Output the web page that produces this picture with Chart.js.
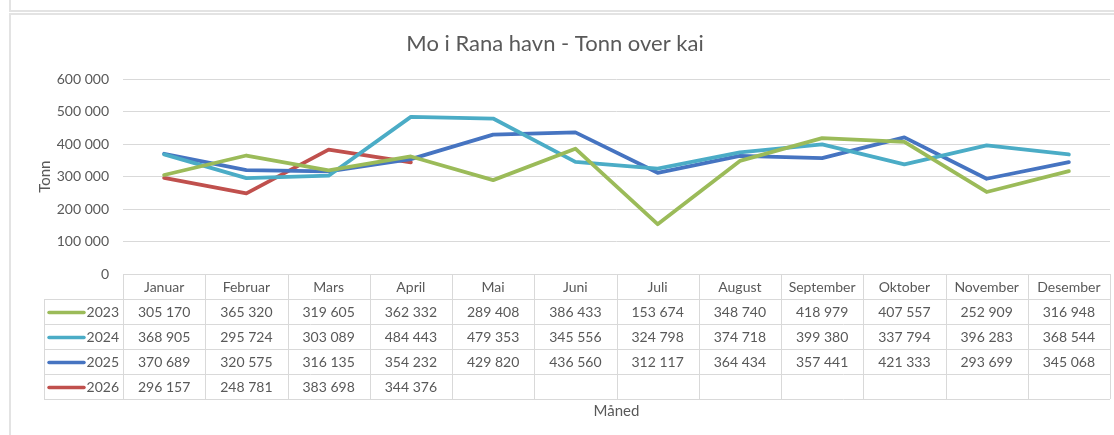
<!DOCTYPE html>
<html>
<head>
<meta charset="utf-8">
<script src="https://cdn.jsdelivr.net/npm/chart.js@4/dist/chart.umd.min.js"></script>
<style>
  html, body { margin: 0; padding: 0; background: #fff; }
  #wrap { position: relative; width: 1114px; height: 435px; }
  #topbox { position: absolute; left: 9px; top: -1px; width: 1105px; height: 11px; border-left: 2px solid #e3e3e3; border-bottom: 2px solid #e3e3e3; }
  #chartbox { position: absolute; left: 9px; top: 13px; width: 1105px; height: 422px; border-left: 2px solid #e3e3e3; border-top: 2px solid #e3e3e3; }
  canvas { position: absolute; left: 0; top: 0; }
</style>
</head>
<body>
<div id="wrap">
  <div id="topbox"></div>
  <div id="chartbox"></div>
  <canvas id="tonn-graph" width="1114" height="435"></canvas>
</div>
<script>
var months = ['Januar', 'Februar', 'Mars', 'April', 'Mai', 'Juni', 'Juli', 'August', 'September', 'Oktober', 'November', 'Desember'];
var years = ['2023', '2024', '2025', '2026'];
var tonn2023 = [305170, 365320, 319605, 362332, 289408, 386433, 153674, 348740, 418979, 407557, 252909, 316948];
var tonn2024 = [368905, 295724, 303089, 484443, 479353, 345556, 324798, 374718, 399380, 337794, 396283, 368544];
var tonn2025 = [370689, 320575, 316135, 354232, 429820, 436560, 312117, 364434, 357441, 421333, 293699, 345068];
var tonn2026 = [296157, 248781, 383698, 344376, null, null, null, null, null, null, null, null];
var colors = ['#9bbb59', '#4bacc6', '#4674c1', '#c0504d'];

var textColor = '#595959';
var gridColor = '#d9d9d9';
var fontFamily = 'Lato, "Open Sans", sans-serif';

function fmt(v) {
	if (v === null || v === undefined) return '';
	return String(Math.round(v)).replace(/\B(?=(\d{3})+(?!\d))/g, ' ');
}

// tabellen under grafen (som i Excel)
var dataTable = {
	id: 'dataTable',
	afterDraw: function(chart) {
		var ctx = chart.ctx;
		var area = chart.chartArea;
		var x = chart.scales.x;
		var colW = (area.right - area.left) / months.length;
		var rowH = 25;
		var top = area.bottom;
		var keyLeft = 44;
		var sets = chart.data.datasets;
		var bottom = top + rowH * (sets.length + 1);

		ctx.save();
		ctx.strokeStyle = gridColor;
		ctx.lineWidth = 1;
		ctx.beginPath();
		// header row line
		ctx.moveTo(area.left, top + 0.5);
		ctx.lineTo(area.right, top + 0.5);
		for (var r = 1; r <= sets.length + 1; r++) {
			var yy = Math.round(top + r * rowH) + 0.5;
			ctx.moveTo(keyLeft, yy);
			ctx.lineTo(area.right, yy);
		}
		ctx.moveTo(keyLeft + 0.5, top + rowH);
		ctx.lineTo(keyLeft + 0.5, bottom);
		for (var c = 0; c <= months.length; c++) {
			var xx = Math.round(x.getPixelForValue(0) - colW / 2 + c * colW) + 0.5;
			ctx.moveTo(xx, top);
			ctx.lineTo(xx, bottom);
		}
		ctx.stroke();

		ctx.font = '14px ' + fontFamily;
		ctx.fillStyle = textColor;
		ctx.textAlign = 'center';
		ctx.textBaseline = 'middle';
		months.forEach(function(m, i) {
			ctx.fillText(m, x.getPixelForValue(i), top + rowH / 2 + 1);
		});

		sets.forEach(function(ds, r) {
			var cy = top + rowH * (r + 1) + rowH / 2 + 1;
			ctx.strokeStyle = ds.borderColor;
			ctx.lineWidth = 3.5;
			ctx.lineCap = 'round';
			ctx.beginPath();
			ctx.moveTo(keyLeft + 5, cy);
			ctx.lineTo(keyLeft + 40, cy);
			ctx.stroke();
			ctx.fillStyle = textColor;
			ctx.textAlign = 'right';
			ctx.fillText(ds.label, area.left - 4, cy);
			ctx.textAlign = 'center';
			ds.data.forEach(function(v, i) {
				ctx.fillText(fmt(v), x.getPixelForValue(i), cy);
			});
		});
		ctx.restore();
	}
};

var tonnctx = document.getElementById('tonn-graph');
var tonnChart = new Chart(tonnctx, {
	type: 'line',
	data: {
		labels: months,
		datasets: [
			{ label: years[0], data: tonn2023, borderColor: colors[0] },
			{ label: years[1], data: tonn2024, borderColor: colors[1] },
			{ label: years[2], data: tonn2025, borderColor: colors[2] },
			{ label: years[3], data: tonn2026, borderColor: colors[3] }
		]
	},
	options: {
		responsive: false,
		animation: false,
		spanGaps: false,
		elements: {
			line: { borderWidth: 3.8, tension: 0, fill: false, borderJoinStyle: 'round', borderCapStyle: 'round' },
			point: { radius: 0, hoverRadius: 0 }
		},
		layout: { padding: { left: 0, right: 4, top: 13, bottom: 0 } },
		plugins: {
			legend: { display: false },
			tooltip: { enabled: false },
			title: {
				display: true,
				text: 'Mo i Rana havn - Tonn over kai',
				color: textColor,
				font: { family: fontFamily, size: 22, weight: 'normal' },
				padding: { top: 18, bottom: 22 }
			}
		},
		scales: {
			x: {
				offset: true,
				grid: { display: false, drawTicks: false },
				border: { display: false },
				ticks: { display: false },
				title: {
					display: true,
					text: 'Måned',
					color: textColor,
					font: { family: fontFamily, size: 15 },
					padding: { top: 128, bottom: 15 }
				},
				afterFit: function(scale) { scale.height = 161; }
			},
			y: {
				min: 0,
				max: 600000,
				grid: { color: gridColor, drawTicks: false },
				border: { display: false },
				ticks: {
					stepSize: 100000,
					padding: 14,
					color: textColor,
					font: { family: fontFamily, size: 14 },
					callback: function(v) { return fmt(v); }
				},
				title: {
					display: true,
					text: 'Tonn',
					color: textColor,
					font: { family: fontFamily, size: 15 },
					padding: { top: 36, bottom: 0 }
				},
				afterFit: function(scale) { scale.width = 123; }
			}
		}
	},
	plugins: [dataTable]
});
</script>
</body>
</html>
